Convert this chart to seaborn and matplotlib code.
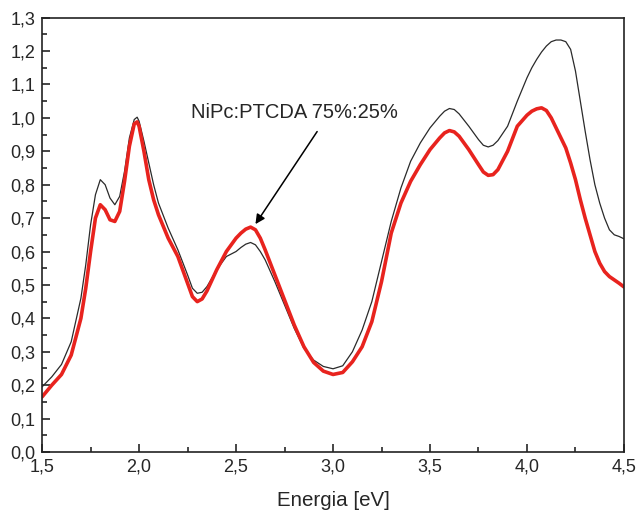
import numpy as np
import pandas as pd
import matplotlib
matplotlib.use("Agg")
import matplotlib.pyplot as plt
from matplotlib.ticker import MultipleLocator, FuncFormatter
import seaborn as sns

# Energy grid [eV]
energy = [1.50, 1.55, 1.60, 1.65, 1.70, 1.725, 1.75, 1.775, 1.80, 1.825, 1.85, 1.875,
          1.90, 1.925, 1.95, 1.975, 1.99, 2.00, 2.025, 2.05, 2.075, 2.10, 2.15, 2.20,
          2.25, 2.275, 2.30, 2.325, 2.35, 2.40, 2.45, 2.50, 2.525, 2.55, 2.575, 2.60,
          2.625, 2.65, 2.70, 2.75, 2.80, 2.85, 2.90, 2.95, 3.00, 3.05, 3.10, 3.15,
          3.20, 3.25, 3.30, 3.35, 3.40, 3.45, 3.50, 3.55, 3.575, 3.60, 3.625, 3.65,
          3.70, 3.75, 3.775, 3.80, 3.825, 3.85, 3.90, 3.95, 4.00, 4.025, 4.05, 4.075,
          4.10, 4.125, 4.15, 4.175, 4.20, 4.225, 4.25, 4.275, 4.30, 4.325, 4.35, 4.375,
          4.40, 4.425, 4.45, 4.475, 4.50]

# black (thin) curve
black_curve = [0.195, 0.225, 0.262, 0.33, 0.46, 0.56, 0.68, 0.77, 0.815, 0.80, 0.76, 0.74,
               0.765, 0.84, 0.94, 0.995, 1.002, 0.99, 0.93, 0.865, 0.80, 0.745, 0.67, 0.605,
               0.53, 0.49, 0.475, 0.478, 0.495, 0.545, 0.585, 0.60, 0.612, 0.622, 0.627, 0.62,
               0.60, 0.575, 0.51, 0.44, 0.37, 0.31, 0.275, 0.256, 0.249, 0.258, 0.30, 0.365,
               0.45, 0.57, 0.69, 0.79, 0.87, 0.925, 0.97, 1.005, 1.02, 1.028, 1.025, 1.012,
               0.975, 0.935, 0.918, 0.913, 0.918, 0.932, 0.975, 1.05, 1.12, 1.15, 1.175, 1.197,
               1.215, 1.228, 1.233, 1.233, 1.228, 1.205, 1.14, 1.05, 0.96, 0.875, 0.80, 0.745,
               0.70, 0.665, 0.65, 0.645, 0.638]

# red (thick) curve - NiPc:PTCDA 75%:25%
red_curve = [0.165, 0.20, 0.232, 0.29, 0.40, 0.49, 0.60, 0.70, 0.74, 0.725, 0.695, 0.69,
             0.72, 0.81, 0.915, 0.982, 0.988, 0.975, 0.90, 0.815, 0.755, 0.71, 0.64, 0.585,
             0.505, 0.465, 0.45, 0.458, 0.482, 0.545, 0.60, 0.64, 0.655, 0.667, 0.673, 0.665,
             0.64, 0.605, 0.53, 0.455, 0.38, 0.315, 0.268, 0.242, 0.232, 0.238, 0.27, 0.315,
             0.39, 0.51, 0.655, 0.745, 0.81, 0.86, 0.905, 0.94, 0.955, 0.962, 0.958, 0.945,
             0.905, 0.86, 0.838, 0.828, 0.83, 0.845, 0.90, 0.975, 1.008, 1.02, 1.027, 1.03,
             1.022, 1.00, 0.97, 0.94, 0.91, 0.865, 0.815, 0.755, 0.70, 0.65, 0.60, 0.565,
             0.54, 0.525, 0.515, 0.505, 0.494]

df = pd.DataFrame({"Energia": energy, "black": black_curve, "red": red_curve})

sns.set_style("ticks")
plt.rcParams['font.family'] = ['Liberation Sans', 'DejaVu Sans']

fig = plt.figure(figsize=(6.38, 5.11), dpi=100)
ax = fig.add_axes([0.066, 0.1155, 0.912, 0.85])

sns.lineplot(data=df, x="Energia", y="black", color="#2a2a2a", linewidth=0.9, ax=ax)
sns.lineplot(data=df, x="Energia", y="red", color="#e8231e", linewidth=2.6, ax=ax)
for ln in ax.lines:
    ln.set_solid_joinstyle("round")

ax.set_xlim(1.5, 4.5)
ax.set_ylim(0, 1.3)
ax.xaxis.set_major_locator(MultipleLocator(0.5))
ax.xaxis.set_minor_locator(MultipleLocator(0.25))
ax.yaxis.set_major_locator(MultipleLocator(0.1))
ax.yaxis.set_minor_locator(MultipleLocator(0.05))
comma = FuncFormatter(lambda v, p: f"{v:.1f}".replace(".", ","))
ax.xaxis.set_major_formatter(comma)
ax.yaxis.set_major_formatter(comma)
ax.tick_params(which="both", direction="in", top=False, right=False, labelsize=13, width=1.2)
ax.tick_params(which="major", length=6)
ax.tick_params(which="minor", length=3.5)
ax.tick_params(axis="y", which="major", pad=5)
ax.tick_params(axis="x", which="major", pad=5)
for s in ax.spines.values():
    s.set_linewidth(1.2)
    s.set_color("#222222")

ax.set_xlabel("Energia [eV]", fontsize=14.8, labelpad=11)
ax.set_ylabel("")

ax.text(2.80, 1.016, "NiPc:PTCDA 75%:25%", ha="center", va="center", fontsize=14.5)
ax.annotate("", xy=(2.60, 0.682), xytext=(2.918, 0.959),
            arrowprops=dict(arrowstyle="-|>", color="black", lw=1.1,
                            shrinkA=0, shrinkB=0, mutation_scale=14))

fig.savefig("out.png", dpi=100)
